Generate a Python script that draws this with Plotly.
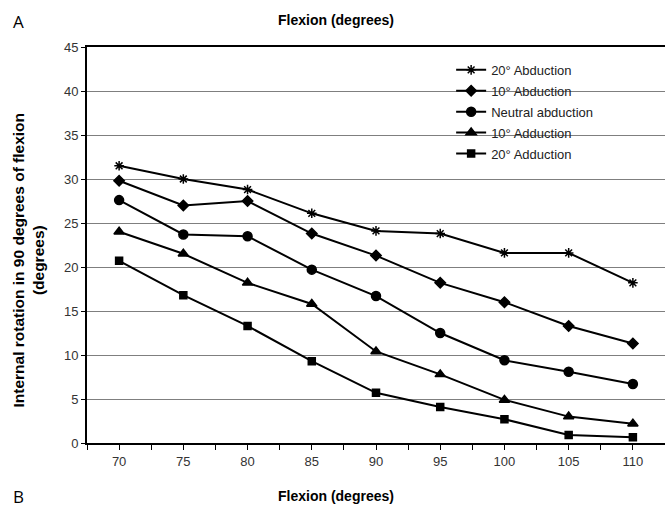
import plotly.graph_objects as go

flexion = [70, 75, 80, 85, 90, 95, 100, 105, 110]
abd20 = [31.5, 30.0, 28.8, 26.1, 24.1, 23.8, 21.6, 21.6, 18.2]
abd10 = [29.8, 27.0, 27.5, 23.8, 21.3, 18.2, 16.0, 13.3, 11.3]
neutral = [27.6, 23.7, 23.5, 19.7, 16.7, 12.5, 9.4, 8.1, 6.7]
add10 = [24.0, 21.5, 18.2, 15.8, 10.4, 7.8, 4.9, 3.0, 2.2]
add20 = [20.7, 16.8, 13.3, 9.3, 5.7, 4.1, 2.7, 0.9, 0.65]

series = [
    ("20° Abduction", abd20, "asterisk-open", 8),
    ("10° Abduction", abd10, "diamond", 8),
    ("Neutral abduction", neutral, "circle", 9),
    ("10° Adduction", add10, "triangle-up", 9),
    ("20° Adduction", add20, "square", 7),
]

x_tickvals = [67.5 + 2.5 * i for i in range(19)]
x_ticktext = [str(int(v)) if (v % 5 == 0) else "" for v in x_tickvals]
y_ticks = list(range(0, 50, 5))

fig = go.Figure()
for i, (name, vals, sym, sz) in enumerate(series):
    fig.add_trace(go.Scatter(
        x=flexion, y=vals, name=name, mode="lines+markers",
        line=dict(color="black", width=2),
        marker=dict(symbol=sym, size=sz, color="black",
                    line=dict(color="black", width=1.5)),
        legendgroup=f"g{i}",
    ))

bold_font = dict(family="Liberation Sans, Arial, sans-serif", size=14, color="black", weight="bold")

fig.update_layout(
    width=665, height=508,
    margin=dict(l=87, r=0, t=47, b=65),
    paper_bgcolor="white", plot_bgcolor="white",
    font=dict(family="Liberation Sans, Arial, sans-serif", size=13, color="#222"),
    showlegend=True,
    legend=dict(x=0.63, y=0.98, xanchor="left", yanchor="top",
                bgcolor="rgba(0,0,0,0)", font=dict(size=13, color="#222"),
                traceorder="grouped", tracegroupgap=1),
    xaxis=dict(range=[67.5, 112.5], tickmode="array", tickvals=x_tickvals,
               ticktext=x_ticktext, ticks="outside", ticklen=5, tickwidth=1,
               tickcolor="black", showline=True, linecolor="black", linewidth=2,
               mirror=True, showgrid=False, zeroline=False,
               tickfont=dict(size=13, color="#333")),
    yaxis=dict(range=[0, 45], tickvals=y_ticks, ticks="outside", ticklen=4,
               tickcolor="black", showline=True, linecolor="black", linewidth=2,
               showgrid=True, gridcolor="#7f7f7f", gridwidth=1, zeroline=False,
               tickfont=dict(size=13, color="#333")),
)

fig.add_annotation(text="Internal rotation in 90 degrees of flexion<br>(degrees)",
                   xref="paper", yref="paper", x=(27.5 - 87) / 578, y=(443 - 260) / 396,
                   textangle=-90, showarrow=False, xanchor="center", yanchor="middle",
                   font=dict(bold_font, size=15.5))
fig.add_annotation(text="Flexion (degrees)", xref="paper", yref="paper",
                   x=(336 - 87) / 578, y=(443 - 20) / 396,
                   showarrow=False, xanchor="center", yanchor="middle",
                   font=bold_font)
fig.add_annotation(text="Flexion (degrees)", xref="paper", yref="paper",
                   x=(336 - 87) / 578, y=(443 - 496) / 396,
                   showarrow=False, xanchor="center", yanchor="middle",
                   font=bold_font)
fig.add_annotation(text="A", xref="paper", yref="paper",
                   x=(18 - 87) / 578, y=(443 - 22) / 396,
                   showarrow=False, xanchor="center", yanchor="middle",
                   font=dict(family="Open Sans, Liberation Sans, sans-serif", size=17, color="black"))
fig.add_annotation(text="B", xref="paper", yref="paper",
                   x=(18 - 87) / 578, y=(443 - 496) / 396,
                   showarrow=False, xanchor="center", yanchor="middle",
                   font=dict(family="Open Sans, Liberation Sans, sans-serif", size=17, color="black"))

fig.write_html("out.html", config={"displayModeBar": False},
               post_script="document.body.style.margin='0';document.body.style.overflow='hidden';")
